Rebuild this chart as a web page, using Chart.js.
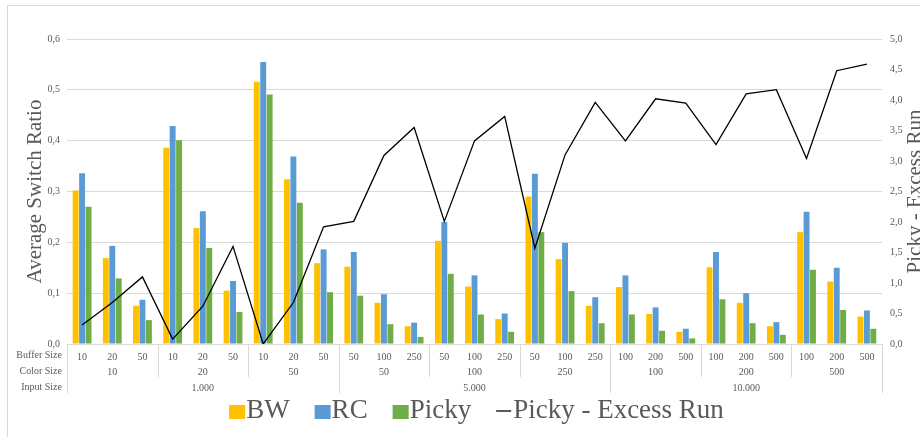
<!DOCTYPE html>
<html lang="en">
<head>
<meta charset="UTF-8">
<title>Average Switch Ratio</title>
<script src="https://cdn.jsdelivr.net/npm/chart.js"></script>
<style>
  html, body { margin: 0; padding: 0; background: #fff; }
  canvas { display: block; }
</style>
</head>
<body>
<canvas id="switchChart" width="920" height="437"></canvas>
<script>
// categories: buffer size, grouped by color size and input size
const bufferSizes = ['10','20','50','10','20','50','10','20','50',
                     '50','100','250','50','100','250','50','100','250',
                     '100','200','500','100','200','500','100','200','500'];
const colorSizes = ['10','10','10','20','20','20','50','50','50',
                    '50','50','50','100','100','100','250','250','250',
                    '100','100','100','200','200','200','500','500','500'];
const inputSizes = ['1.000','1.000','1.000','1.000','1.000','1.000','1.000','1.000','1.000',
                    '5.000','5.000','5.000','5.000','5.000','5.000','5.000','5.000','5.000',
                    '10.000','10.000','10.000','10.000','10.000','10.000','10.000','10.000','10.000'];

// series values
const bwValues = [0.302,0.169,0.075,0.386,0.228,0.105,0.516,0.324,0.159,
                  0.152,0.081,0.035,0.203,0.113,0.049,0.290,0.167,0.075,
                  0.112,0.059,0.024,0.151,0.081,0.035,0.220,0.123,0.054];
const rcValues = [0.336,0.193,0.087,0.429,0.261,0.124,0.555,0.369,0.186,
                  0.181,0.098,0.042,0.240,0.135,0.060,0.335,0.199,0.092,
                  0.135,0.072,0.030,0.181,0.100,0.043,0.260,0.150,0.066];
const pickyValues = [0.270,0.129,0.047,0.401,0.189,0.063,0.491,0.278,0.102,
                     0.095,0.039,0.014,0.138,0.058,0.024,0.220,0.104,0.041,
                     0.058,0.026,0.011,0.088,0.041,0.018,0.146,0.067,0.030];
const excessRun = [0.31,0.68,1.10,0.08,0.62,1.60,0.00,0.68,1.92,
                   2.01,3.09,3.55,2.01,3.33,3.73,1.57,3.10,3.96,
                   3.33,4.02,3.95,3.27,4.10,4.17,3.04,4.48,4.59];

const rowHeaders = ['Buffer Size', 'Color Size', 'Input Size'];

const SERIF = '"Liberation Serif", "Times New Roman", serif';
const TEXT = '#595959';
const LINES = '#d9d9d9';

const fmt = v => v.toFixed(1).replace('.', ',');

// extra rows of the category axis, titles, legend and frame
const decorPlugin = {
    id: 'decor',
    afterDraw(chart) {
        const ctx = chart.ctx;
        const x = chart.scales.x;
        const area = chart.chartArea;
        const n = bufferSizes.length;
        const catW = x.getPixelForValue(1) - x.getPixelForValue(0);
        const edge = i => x.getPixelForValue(0) + (i - 0.5) * catW;

        ctx.save();

        // separators
        ctx.strokeStyle = LINES;
        ctx.lineWidth = 1;
        for (let i = 0; i <= n; i++) {
            let bottom = null;
            if (i === 0 || i === n || inputSizes[i] !== inputSizes[i - 1]) bottom = 393;
            else if (colorSizes[i] !== colorSizes[i - 1]) bottom = 377;
            if (bottom === null) continue;
            const px = Math.round(edge(i)) + 0.5;
            ctx.beginPath();
            ctx.moveTo(px, area.bottom);
            ctx.lineTo(px, bottom);
            ctx.stroke();
        }

        ctx.fillStyle = TEXT;
        ctx.font = '10px ' + SERIF;
        ctx.textBaseline = 'middle';

        // row headers
        ctx.textAlign = 'right';
        ctx.fillText(rowHeaders[0], 62, 355);
        ctx.fillText(rowHeaders[1], 62, 371);
        ctx.fillText(rowHeaders[2], 62, 387);

        // color size and input size rows
        ctx.textAlign = 'center';
        const drawRow = (keyOf, labelOf, y) => {
            let start = 0;
            for (let i = 1; i <= n; i++) {
                if (i === n || keyOf(i) !== keyOf(start)) {
                    ctx.fillText(labelOf(start), (edge(start) + edge(i)) / 2, y);
                    start = i;
                }
            }
        };
        drawRow(i => inputSizes[i] + '|' + colorSizes[i], i => colorSizes[i], 372);
        drawRow(i => inputSizes[i], i => inputSizes[i], 388);

        // axis titles
        ctx.font = '21px ' + SERIF;
        const midY = (area.top + area.bottom) / 2;
        ctx.save();
        ctx.translate(35, midY);
        ctx.rotate(-Math.PI / 2);
        ctx.fillText('Average Switch Ratio', 0, 0);
        ctx.restore();
        ctx.save();
        ctx.translate(915, midY);
        ctx.rotate(-Math.PI / 2);
        ctx.fillText('Picky - Excess Run', 0, 0);
        ctx.restore();

        // legend
        ctx.font = '27px ' + SERIF;
        ctx.textAlign = 'left';
        const items = chart.data.datasets.map(ds => ({
            label: ds.label,
            color: ds.type === 'line' ? ds.borderColor : ds.backgroundColor,
            line: ds.type === 'line'
        }));
        const markW = 16, gapText = 1, gapItem = 25;
        const widths = items.map(it => markW + gapText + ctx.measureText(it.label).width);
        const total = widths.reduce((a, b) => a + b, 0) + gapItem * (items.length - 1);
        let lx = (area.left + area.right) / 2 - total / 2 + 2;
        const ly = 411;
        items.forEach((it, k) => {
            if (it.line) {
                ctx.strokeStyle = it.color;
                ctx.lineWidth = 1.3;
                ctx.beginPath();
                ctx.moveTo(lx, ly);
                ctx.lineTo(lx + 15, ly);
                ctx.stroke();
            } else {
                ctx.fillStyle = it.color;
                ctx.fillRect(lx, ly - 6, markW, 14);
            }
            ctx.fillStyle = TEXT;
            ctx.fillText(it.label, lx + markW + gapText, ly);
            lx += widths[k] + gapItem;
        });

        // chart frame
        ctx.strokeStyle = LINES;
        ctx.lineWidth = 1;
        ctx.strokeRect(7.5, 5.5, 1000, 1000);

        ctx.restore();
    }
};

new Chart(document.getElementById('switchChart'), {
    data: {
        labels: bufferSizes,
        datasets: [
            { type: 'bar', label: 'BW', data: bwValues, backgroundColor: '#FFC000', order: 1 },
            { type: 'bar', label: 'RC', data: rcValues, backgroundColor: '#5B9BD5', order: 1 },
            { type: 'bar', label: 'Picky', data: pickyValues, backgroundColor: '#70AD47', order: 1 },
            { type: 'line', label: 'Picky - Excess Run', data: excessRun, yAxisID: 'y2',
              borderColor: '#000000', backgroundColor: '#000000', borderWidth: 1.3,
              pointRadius: 0, tension: 0, order: 0 }
        ]
    },
    options: {
        responsive: false,
        animation: false,
        layout: { padding: { top: 39, left: 0, right: 0, bottom: 0 } },
        datasets: {
            bar: { categoryPercentage: 0.64, barPercentage: 0.92, borderWidth: 0 }
        },
        plugins: {
            legend: { display: false },
            tooltip: { enabled: false }
        },
        scales: {
            x: {
                type: 'category',
                offset: true,
                grid: { display: false },
                border: { display: false },
                ticks: {
                    autoSkip: false,
                    maxRotation: 0,
                    padding: -1,
                    color: TEXT,
                    font: { family: SERIF, size: 10 }
                },
                afterFit: s => { s.height = 93; }
            },
            y: {
                position: 'left',
                min: 0,
                max: 0.6,
                grid: { color: LINES, drawTicks: false },
                border: { display: false },
                ticks: {
                    stepSize: 0.1,
                    padding: 7,
                    color: TEXT,
                    font: { family: SERIF, size: 10 },
                    callback: v => fmt(v)
                },
                afterFit: s => { s.width = 67; }
            },
            y2: {
                position: 'right',
                min: 0,
                max: 5,
                grid: { display: false, drawTicks: false },
                border: { display: false },
                ticks: {
                    stepSize: 0.5,
                    padding: 8,
                    color: TEXT,
                    font: { family: SERIF, size: 10 },
                    callback: v => fmt(v)
                },
                afterFit: s => { s.width = 38; }
            }
        }
    },
    plugins: [decorPlugin]
});
</script>
</body>
</html>
